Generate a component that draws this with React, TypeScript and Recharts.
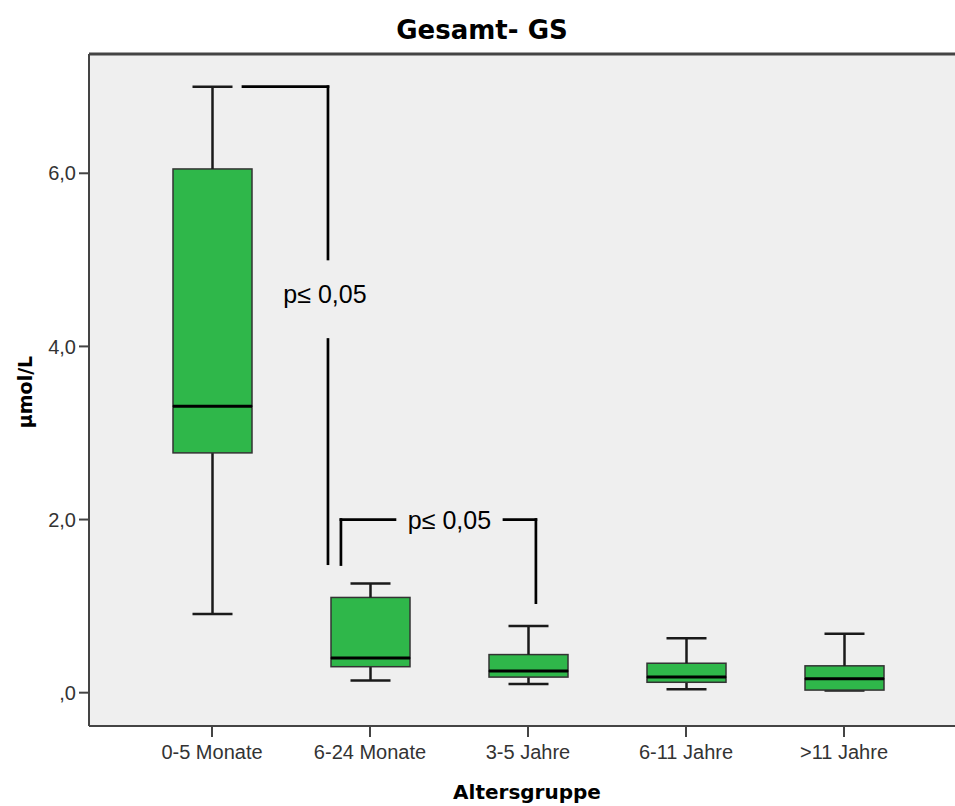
import React from "react";
import {
  ComposedChart,
  Bar,
  XAxis,
  YAxis,
  CartesianGrid,
  ReferenceLine,
  Scatter,
} from "recharts";

// Altersgruppen und Boxplot-Kennwerte (µmol/L)
const categories = ["0-5 Monate", "6-24 Monate", "3-5 Jahre", "6-11 Jahre", ">11 Jahre"];
const mins = [0.91, 0.14, 0.1, 0.04, 0.025];
const q1s = [2.77, 0.3, 0.18, 0.12, 0.03];
const medians = [3.31, 0.4, 0.25, 0.18, 0.16];
const q3s = [6.05, 1.1, 0.44, 0.34, 0.31];
const maxs = [7.0, 1.26, 0.77, 0.63, 0.68];

const yTicks = [0, 2, 4, 6];
const Y_MIN = -0.385;
const Y_MAX = 7.378;

// Signifikanz-Klammern: [x1, y1, x2, y2] mit x = Gruppenindex
const bracketSegments = [
  [0.196, 7.0, 0.734, 7.0],
  [0.734, 7.0, 0.734, 5.01],
  [0.734, 4.08, 0.734, 1.49],
  [0.816, 1.48, 0.816, 2.0],
  [0.816, 2.0, 1.158, 2.0],
  [1.848, 2.0, 2.05, 2.0],
  [2.05, 2.0, 2.05, 1.04],
];
const pLabels = [
  { x: 0.715, y: 4.61, text: "p≤ 0,05" },
  { x: 1.503, y: 2.0, text: "p≤ 0,05" },
];

const rows = categories.map((name, i) => ({
  name,
  base: mins[i],
  lowW: q1s[i] - mins[i],
  lowBox: medians[i] - q1s[i],
  highBox: q3s[i] - medians[i],
  highW: maxs[i] - q3s[i],
}));

const GREEN = "#2fb74a";
const INK = "#1a1a1a";
const AXIS = "#444";
const CAP = 20;

const LowWhisker = (p: any) => {
  const cx = p.x + p.width / 2;
  const bottom = p.y + p.height;
  return (
    <g>
      <line x1={cx} x2={cx} y1={p.y} y2={bottom} stroke={INK} strokeWidth={2.5} />
      <line x1={cx - CAP} x2={cx + CAP} y1={bottom} y2={bottom} stroke={INK} strokeWidth={2.5} />
    </g>
  );
};

const HighWhisker = (p: any) => {
  const cx = p.x + p.width / 2;
  return (
    <g>
      <line x1={cx} x2={cx} y1={p.y} y2={p.y + p.height} stroke={INK} strokeWidth={2.5} />
      <line x1={cx - CAP} x2={cx + CAP} y1={p.y} y2={p.y} stroke={INK} strokeWidth={2.5} />
    </g>
  );
};

const LowBox = (p: any) => (
  <rect x={p.x} y={p.y} width={p.width} height={p.height} fill={GREEN} stroke="#333" strokeWidth={1.5} />
);

const HighBox = (p: any) => {
  const bottom = p.y + p.height;
  return (
    <g>
      <rect x={p.x} y={p.y} width={p.width} height={p.height} fill={GREEN} stroke="#333" strokeWidth={1.5} />
      <line x1={p.x} x2={p.x + p.width} y1={bottom} y2={bottom} stroke="#000" strokeWidth={3} />
    </g>
  );
};

const PText = (p: any) => (
  <text
    x={p.cx}
    y={p.cy}
    textAnchor="middle"
    dominantBaseline="central"
    fontFamily="'Liberation Sans', Arial, sans-serif"
    fontSize={25}
    fill="#000"
  >
    {p.payload.text}
  </text>
);

const fmtY = (v: number) => (v === 0 ? ",0" : v.toFixed(1).replace(".", ","));

export default function App() {
  return (
    <div
      style={{
        position: "absolute",
        left: 0,
        top: 0,
        width: 955,
        height: 806,
        overflow: "hidden",
        background: "#fff",
      }}
    >
      <div
        style={{
          position: "absolute",
          left: 482,
          top: 30,
          transform: "translate(-50%, -50%)",
          fontFamily: "'DejaVu Sans', sans-serif",
          fontWeight: "bold",
          fontSize: 26,
          whiteSpace: "nowrap",
        }}
      >
        Gesamt- GS
      </div>
      <div
        style={{
          position: "absolute",
          left: 25,
          top: 392,
          transform: "translate(-50%, -50%) rotate(-90deg)",
          fontFamily: "'DejaVu Sans', sans-serif",
          fontWeight: "bold",
          fontSize: 19,
          whiteSpace: "nowrap",
        }}
      >
        µmol/L
      </div>
      <div
        style={{
          position: "absolute",
          left: 527,
          top: 792,
          transform: "translate(-50%, -50%)",
          fontFamily: "'DejaVu Sans', sans-serif",
          fontWeight: "bold",
          fontSize: 20,
          whiteSpace: "nowrap",
        }}
      >
        Altersgruppe
      </div>
      <div style={{ position: "absolute", left: 0, top: 0 }}>
        <ComposedChart
          width={980}
          height={806}
          data={rows}
          margin={{ top: 54, right: 15, bottom: 0, left: 0 }}
        >
          <CartesianGrid fill="#efefef" stroke="none" horizontal={false} vertical={false} />
          <XAxis
            dataKey="name"
            padding={{ left: 44, right: 42 }}
            height={80}
            tickSize={11}
            tickMargin={8}
            axisLine={{ stroke: AXIS, strokeWidth: 2 }}
            tickLine={{ stroke: AXIS, strokeWidth: 2 }}
            tick={{ fontSize: 20, fill: "#333", fontFamily: "'Liberation Sans', Arial, sans-serif" }}
            interval={0}
          />
          <XAxis
            xAxisId="n"
            type="number"
            dataKey="x"
            domain={[-0.5, 4.5]}
            padding={{ left: 44, right: 42 }}
            allowDataOverflow
            hide
          />
          <YAxis
            width={89}
            domain={[Y_MIN, Y_MAX]}
            ticks={yTicks}
            allowDataOverflow
            tickFormatter={fmtY}
            tickSize={10}
            tickMargin={3}
            axisLine={{ stroke: AXIS, strokeWidth: 2 }}
            tickLine={{ stroke: AXIS, strokeWidth: 2 }}
            tick={{ fontSize: 20, fill: "#333", fontFamily: "'Liberation Sans', Arial, sans-serif" }}
          />
          <ReferenceLine y={Y_MAX} stroke={AXIS} strokeWidth={3} ifOverflow="visible" />
          <Bar dataKey="base" stackId="box" barSize={79} fill="none" shape={() => <g />} isAnimationActive={false} />
          <Bar dataKey="lowW" stackId="box" barSize={79} shape={LowWhisker} isAnimationActive={false} />
          <Bar dataKey="lowBox" stackId="box" barSize={79} shape={LowBox} isAnimationActive={false} />
          <Bar dataKey="highBox" stackId="box" barSize={79} shape={HighBox} isAnimationActive={false} />
          <Bar dataKey="highW" stackId="box" barSize={79} shape={HighWhisker} isAnimationActive={false} />
          {bracketSegments.map((s, i) => (
            <ReferenceLine
              key={i}
              xAxisId="n"
              segment={[
                { x: s[0], y: s[1] },
                { x: s[2], y: s[3] },
              ]}
              stroke="#000"
              strokeWidth={2.7}
              strokeLinecap="square"
              ifOverflow="visible"
            />
          ))}
          <Scatter xAxisId="n" data={pLabels} dataKey="y" shape={PText} isAnimationActive={false} />
        </ComposedChart>
      </div>
    </div>
  );
}
